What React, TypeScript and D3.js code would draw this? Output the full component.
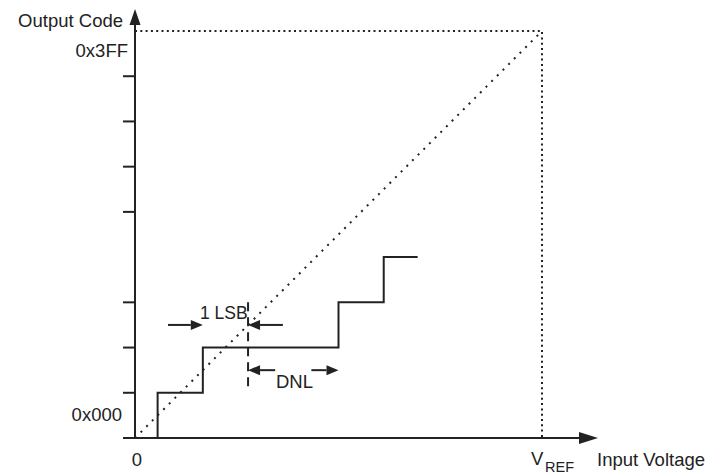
import React, { useEffect, useRef } from 'react';
import * as d3 from 'd3';

// full scale in LSB units (0 .. VREF / 0x000 .. 0x3FF)
const fullScale = 9;
// y axis tick marks (code levels), level 4 has no tick in the original
const yTickLevels = [1, 2, 3, 5, 6, 7, 8];
// staircase transfer function: input (LSB) vs output code
const stairInput = [0.5, 0.5, 1.5, 4.5, 5.5, 6.25];
const stairCode = [0, 1, 2, 3, 4, 4];
// ideal transfer line
const idealInput = [0, 9];
const idealCode = [0, 9];

const yLabels = [
  { level: 9, text: '0x3FF' },
  { level: 0, text: '0x000' },
];

const FONT = '"Liberation Sans", Arial, Helvetica, sans-serif';

const App: React.FC = () => {
  const ref = useRef<SVGSVGElement>(null);

  useEffect(() => {
    if (!ref.current) return;
    const svg = d3.select(ref.current);
    svg.selectAll('*').remove();

    const x = d3.scaleLinear().domain([0, fullScale]).range([135, 542]);
    const y = d3.scaleLinear().domain([0, fullScale]).range([438, 31]);
    const ink = '#222';

    // dotted frame (VREF / 0x3FF)
    svg
      .append('path')
      .attr('d', `M${x(0)},${y(fullScale)}H${x(fullScale)}V${y(0)}`)
      .attr('fill', 'none')
      .attr('stroke', ink)
      .attr('stroke-width', 2)
      .attr('stroke-dasharray', '2,3.3');

    // ideal diagonal
    const idealLine = d3
      .line<number>()
      .x((d, i) => x(idealInput[i]))
      .y((d, i) => y(idealCode[i]));
    svg
      .append('path')
      .attr('d', idealLine(idealInput))
      .attr('fill', 'none')
      .attr('stroke', ink)
      .attr('stroke-width', 2)
      .attr('stroke-dasharray', '2,6');

    // axes
    svg
      .append('line')
      .attr('x1', x(0))
      .attr('x2', x(0))
      .attr('y1', y(0) + 1)
      .attr('y2', 24)
      .attr('stroke', ink)
      .attr('stroke-width', 2);
    svg
      .append('path')
      .attr('d', `M${x(0)},9L${x(0) + 5.5},25L${x(0) - 5.5},25Z`)
      .attr('fill', ink);

    svg
      .append('line')
      .attr('x1', 123)
      .attr('x2', 580)
      .attr('y1', y(0))
      .attr('y2', y(0))
      .attr('stroke', ink)
      .attr('stroke-width', 2);
    svg
      .append('path')
      .attr('d', `M598,${y(0)}L579,${y(0) - 6}L579,${y(0) + 6}Z`)
      .attr('fill', ink);

    // y ticks
    svg
      .selectAll('line.tick')
      .data(yTickLevels)
      .enter()
      .append('line')
      .attr('class', 'tick')
      .attr('x1', 123)
      .attr('x2', x(0))
      .attr('y1', (d) => y(d))
      .attr('y2', (d) => y(d))
      .attr('stroke', ink)
      .attr('stroke-width', 2);

    // staircase
    const stair = d3
      .line<number>()
      .x((d, i) => x(stairInput[i]))
      .y((d, i) => y(stairCode[i]))
      .curve(d3.curveStepAfter);
    svg
      .append('path')
      .attr('d', stair(stairInput))
      .attr('fill', 'none')
      .attr('stroke', ink)
      .attr('stroke-width', 2);

    // dashed marker at 2.5 LSB
    svg
      .append('line')
      .attr('x1', x(2.5))
      .attr('x2', x(2.5))
      .attr('y1', y(3))
      .attr('y2', y(1.1))
      .attr('stroke', ink)
      .attr('stroke-width', 2)
      .attr('stroke-dasharray', '9,6');

    // arrows: tail -> tip
    const arrow = (from: number, to: number, level: number) => {
      const dir = to > from ? 1 : -1;
      const yy = y(level);
      const head = 12;
      svg
        .append('line')
        .attr('x1', x(from))
        .attr('x2', x(to) - dir * head)
        .attr('y1', yy)
        .attr('y2', yy)
        .attr('stroke', ink)
        .attr('stroke-width', 2);
      svg
        .append('path')
        .attr(
          'd',
          `M${x(to)},${yy}L${x(to) - dir * head},${yy - 5}L${x(to) - dir * head},${yy + 5}Z`
        )
        .attr('fill', ink);
    };
    arrow(0.73, 1.5, 2.5);
    arrow(3.27, 2.5, 2.5);
    arrow(3.1, 2.5, 1.5);
    arrow(3.9, 4.5, 1.5);

    const text = (
      tx: number,
      ty: number,
      t: string,
      anchor = 'start',
      size = 18.5
    ) =>
      svg
        .append('text')
        .attr('x', tx)
        .attr('y', ty)
        .attr('text-anchor', anchor)
        .attr('font-family', FONT)
        .attr('font-size', size)
        .attr('fill', ink)
        .text(t);

    text(123, 27, 'Output Code', 'end');
    yLabels.forEach((l) =>
      text(l.level === 0 ? 122 : 128, y(l.level) + (l.level === 0 ? -17 : 26), l.text, 'end')
    );
    text(x(0) + 2, 466, '0', 'middle');
    text(x(fullScale) - 11, 465, 'V', 'start');
    // subscript kept inside the picture
    text(x(fullScale) + 3, 472, 'REF', 'start', 14.5);
    text(597, 466, 'Input Voltage', 'start');
    text(200, 319, '1 LSB', 'start', 17.5);
    text(276, 388, 'DNL', 'start');
  }, []);

  return (
    <svg
      ref={ref}
      width={717}
      height={474}
      style={{ position: 'absolute', left: 0, top: 0, background: '#fff' }}
    />
  );
};

export default App;
